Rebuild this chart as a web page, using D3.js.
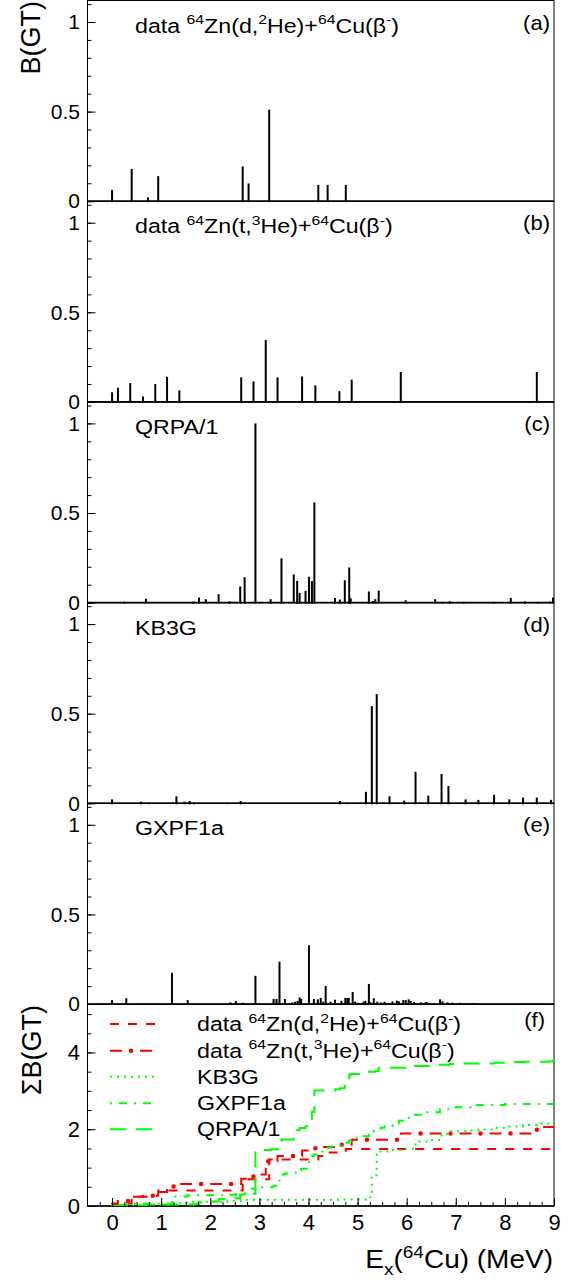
<!DOCTYPE html>
<html>
<head>
<meta charset="utf-8">
<script src="https://cdn.jsdelivr.net/npm/d3@7"></script>
<style>
  body { margin: 0; background: #fff; }
  text { font-family: "Liberation Sans", Arial, Helvetica, sans-serif; fill: #000; }
</style>
</head>
<body>
<script>
// B(GT) strengths per level (a)-(e)
var dhE = [0.00, 0.40, 0.73, 0.94, 2.66, 2.78, 3.20, 4.20, 4.39, 4.76];
var dhB = [0.063, 0.180, 0.022, 0.140, 0.194, 0.099, 0.511, 0.091, 0.091, 0.091];

var thE = [0.00, 0.12, 0.37, 0.63, 0.88, 1.12, 1.37, 2.63, 2.88, 3.13, 3.37, 3.87, 4.14, 4.63, 4.88, 5.88, 8.65];
var thB = [0.054, 0.079, 0.105, 0.030, 0.100, 0.140, 0.064, 0.137, 0.114, 0.345, 0.137, 0.142, 0.092, 0.060, 0.124, 0.167, 0.167];

var qrpaE = [0.25, 0.69, 1.66, 1.77, 1.91, 2.17, 2.39, 2.61, 2.70, 2.92, 3.23, 3.45, 3.70, 3.77, 3.82, 3.94, 4.01, 4.07, 4.12,
             4.54, 4.64, 4.74, 4.83, 4.86, 5.23, 5.31, 5.36, 5.43, 5.98, 6.58, 6.73, 6.88, 7.16, 7.78, 8.12, 8.41, 8.67, 8.91, 8.98];
var qrpaB = [0.005, 0.022, 0.006, 0.028, 0.019, 0.047, 0.007, 0.090, 0.142, 1.000, 0.019, 0.247, 0.157, 0.121, 0.054, 0.065, 0.144, 0.120, 0.559,
             0.026, 0.017, 0.125, 0.196, 0.024, 0.062, 0.009, 0.019, 0.067, 0.013, 0.019, 0.004, 0.007, 0.004, 0.004, 0.026, 0.007, 0.004, 0.006, 0.028];

var kbE = [0.00, 0.59, 0.74, 1.31, 1.47, 1.58, 1.67, 2.35, 2.62, 4.64, 4.79, 5.17, 5.29, 5.39, 5.65, 5.95, 6.18, 6.44, 6.71, 6.85,
           7.20, 7.46, 7.78, 8.09, 8.37, 8.65, 8.94];
var kbB = [0.022, 0.009, 0.004, 0.039, 0.009, 0.013, 0.005, 0.003, 0.013, 0.013, 0.004, 0.064, 0.542, 0.609, 0.039, 0.015, 0.176, 0.043, 0.164, 0.097,
           0.022, 0.019, 0.047, 0.022, 0.032, 0.032, 0.019];

var gxE = [0.00, 0.29, 1.22, 1.54, 2.41, 2.52, 2.66, 2.92, 3.29, 3.35, 3.41, 3.52, 3.67, 3.73, 3.78, 3.82, 3.85, 4.01, 4.11, 4.19,
           4.25, 4.30, 4.35, 4.45, 4.54, 4.67, 4.75, 4.79, 4.82, 4.90, 4.95, 5.00, 5.12, 5.16, 5.23, 5.26, 5.33, 5.40, 5.47, 5.55,
           5.71, 5.80, 5.84, 5.93, 5.98, 6.04, 6.08, 6.15, 6.29, 6.39, 6.42, 6.68, 6.73, 6.83, 6.93, 7.08, 7.34];
var gxB = [0.022, 0.032, 0.174, 0.022, 0.009, 0.017, 0.007, 0.157, 0.028, 0.028, 0.236, 0.028, 0.009, 0.013, 0.017, 0.037, 0.028, 0.328, 0.028, 0.026,
           0.034, 0.013, 0.101, 0.013, 0.024, 0.017, 0.034, 0.034, 0.034, 0.067, 0.013, 0.007, 0.013, 0.017, 0.112, 0.011, 0.032, 0.013, 0.009, 0.013,
           0.015, 0.019, 0.015, 0.022, 0.022, 0.026, 0.017, 0.011, 0.009, 0.011, 0.009, 0.026, 0.015, 0.009, 0.007, 0.007, 0.006];

// running sums of the calculations as drawn in panel (f) (they hold more strength than the resolved lines)
var kbSumE = [0.00, 0.58, 1.31, 1.47, 1.58, 2.35, 2.62, 4.64, 5.17, 5.29, 5.39, 5.65, 5.95, 6.18, 6.44, 6.71, 6.85, 7.20, 7.46, 7.78, 8.09, 8.37, 8.65, 8.94];
var kbSumV = [0.02, 0.03, 0.07, 0.09, 0.11, 0.14, 0.16, 0.17, 0.23, 0.80, 1.42, 1.46, 1.49, 1.68, 1.72, 1.88, 1.95, 1.97, 1.99, 2.04, 2.07, 2.11, 2.15, 2.18];

var gxSumE = [0.00, 0.29, 1.22, 1.54, 2.41, 2.52, 2.66, 2.92, 3.29, 3.35, 3.41, 3.52, 3.67, 3.78, 3.82, 3.85, 4.01, 4.11, 4.19, 4.25, 4.35, 4.45,
              4.54, 4.67, 4.75, 4.82, 4.90, 5.12, 5.23, 5.33, 5.47, 5.55, 5.71, 5.84, 5.98, 6.08, 6.29, 6.68, 6.93, 7.34, 8.00];
var gxSumV = [0.03, 0.06, 0.25, 0.28, 0.29, 0.31, 0.32, 0.49, 0.53, 0.56, 0.82, 0.85, 0.87, 0.90, 0.94, 0.97, 1.30, 1.34, 1.38, 1.42, 1.52, 1.55,
              1.58, 1.61, 1.65, 1.70, 1.78, 1.82, 1.95, 2.00, 2.04, 2.08, 2.15, 2.22, 2.30, 2.38, 2.44, 2.52, 2.57, 2.63, 2.66];

var qrpaSumE = [0.25, 0.69, 1.66, 1.77, 1.91, 2.17, 2.39, 2.61, 2.70, 2.92, 3.23, 3.45, 3.70, 3.77, 3.82, 3.94, 4.01, 4.07, 4.12, 4.54, 4.64,
                4.74, 4.83, 4.86, 5.23, 5.36, 5.43, 5.98, 6.58, 6.88, 7.16, 7.78, 8.12, 8.41, 8.91, 8.98];
var qrpaSumV = [0.01, 0.04, 0.06, 0.09, 0.12, 0.18, 0.20, 0.30, 0.45, 1.46, 1.48, 1.73, 1.88, 1.98, 2.03, 2.08, 2.22, 2.45, 3.01, 3.04, 3.07,
                3.20, 3.42, 3.44, 3.50, 3.52, 3.60, 3.65, 3.68, 3.70, 3.71, 3.73, 3.75, 3.76, 3.77, 3.79];

var xTicks = [0, 1, 2, 3, 4, 5, 6, 7, 8, 9];
var bTicks = [0, 0.5, 1];
var sumTicks = [0, 2, 4];

var width = 574, height = 1284;
var svg = d3.select("body").append("svg").attr("width", width).attr("height", height);

var x = d3.scaleLinear().domain([-0.5, 9.0]).range([87.5, 554]);
var panelH = 200.7;

// text with ^{..} and _{..} pieces, slightly widened like the original
function rich(parent, px, py, str, size, sx, anchor) {
  var t = parent.append("text").attr("transform", "translate(" + px + "," + py + ") scale(" + sx + ",1)")
    .attr("text-anchor", anchor || "start");
  var re = /([\^_])\{([^}]*)\}|([^\^_]+)/g, m, shift = 0;
  while ((m = re.exec(str))) {
    if (m[3]) {
      t.append("tspan").attr("font-size", size).attr("dy", -shift).text(m[3]);
      shift = 0;
    } else {
      var s = m[1] === "^" ? -0.42 * size : 0.28 * size;
      t.append("tspan").attr("font-size", size * 0.68).attr("dy", s - shift).text(m[2]);
      shift = s;
    }
  }
  return t;
}

var panels = [
  {E: dhE, B: dhB, title: "data ^{64}Zn(d,^{2}He)+^{64}Cu(β^{-})", tag: "(a)"},
  {E: thE, B: thB, title: "data ^{64}Zn(t,^{3}He)+^{64}Cu(β^{-})", tag: "(b)"},
  {E: qrpaE, B: qrpaB, title: "QRPA/1", tag: "(c)"},
  {E: kbE, B: kbB, title: "KB3G", tag: "(d)"},
  {E: gxE, B: gxB, title: "GXPF1a", tag: "(e)"}
];

panels.forEach(function(p, i) {
  var top = 0.5 + i * panelH, bot = top + panelH;
  var y = d3.scaleLinear().domain([0, 1.12]).range([bot, top]);
  var g = svg.append("g");

  g.append("rect").attr("x", x(-0.5)).attr("y", top).attr("width", x(9) - x(-0.5)).attr("height", panelH)
    .attr("fill", "none").attr("stroke", "#000").attr("stroke-width", 1);

  g.selectAll(".bar").data(p.E).enter().append("line")
    .attr("x1", function(d) { return x(d); }).attr("x2", function(d) { return x(d); })
    .attr("y1", y(0) + 1).attr("y2", function(d, j) { return y(p.B[j]); })
    .attr("stroke", "#000").attr("stroke-width", 2);

  g.append("line").attr("x1", x(-0.5)).attr("x2", x(9)).attr("y1", bot).attr("y2", bot)
    .attr("stroke", "#000").attr("stroke-width", 1.6);

  var minor = d3.axisLeft(y).tickValues(d3.range(0, 1.11, 0.1)).tickSizeInner(-4).tickSizeOuter(0).tickFormat("");
  var major = d3.axisLeft(y).tickValues(bTicks).tickSizeInner(-8).tickSizeOuter(0).tickPadding(7.5).tickFormat(function(d) { return String(d); });
  var ga = g.append("g").attr("transform", "translate(" + x(-0.5) + ",0)");
  ga.append("g").call(minor);
  ga.append("g").call(major);
  ga.selectAll(".domain").remove();
  ga.selectAll("text").attr("font-size", 21).attr("font-family", null);

  rich(g, 135, top + 32, p.title, 20, 1.16);
  rich(g, 550, top + 29, p.tag, 20, 1.1, "end");
});

svg.append("text").attr("transform", "translate(40,1) rotate(-90)").attr("text-anchor", "end")
  .attr("font-size", 27).text("B(GT)");

// panel (f): running sums
var fTop = 1004.5, fBot = 1206;
var yF = d3.scaleLinear().domain([0, 5.25]).range([fBot, fTop]);
var gf = svg.append("g");
gf.append("rect").attr("x", x(-0.5)).attr("y", fTop).attr("width", x(9) - x(-0.5)).attr("height", fBot - fTop)
  .attr("fill", "none").attr("stroke", "#000").attr("stroke-width", 1);
gf.append("line").attr("x1", x(-0.5)).attr("x2", x(9)).attr("y1", fBot).attr("y2", fBot)
  .attr("stroke", "#000").attr("stroke-width", 1.6);

svg.append("defs").append("clipPath").attr("id", "clipf").append("rect")
  .attr("x", x(-0.5)).attr("y", fTop).attr("width", x(9) - x(-0.5)).attr("height", fBot - fTop);

function steps(E, V) {
  var pts = [[0, 0]];
  E.forEach(function(e, j) { pts.push([e, V[j]]); });
  pts.push([9.0, V[V.length - 1]]);
  return pts;
}
var line = d3.line().x(function(d) { return x(d[0]); }).y(function(d) { return yF(d[1]); }).curve(d3.curveStepAfter);

var red = "#ff0000", green = "#00ff00";
var curves = [
  {pts: steps(dhE, Array.from(d3.cumsum(dhB))), color: red, dash: "9,9", label: "data ^{64}Zn(d,^{2}He)+^{64}Cu(β^{-})"},
  {pts: steps(thE, Array.from(d3.cumsum(thB))), color: red, dash: "12,18", dots: true, label: "data ^{64}Zn(t,^{3}He)+^{64}Cu(β^{-})"},
  {pts: steps(kbSumE, kbSumV), color: green, dash: "2,5", label: "KB3G"},
  {pts: steps(gxSumE, gxSumV), color: green, dash: "2,7,8,7", label: "GXPF1a"},
  {pts: steps(qrpaSumE, qrpaSumV), color: green, dash: "16,10", label: "QRPA/1"}
];

var gc = gf.append("g").attr("clip-path", "url(#clipf)");
curves.forEach(function(c) {
  gc.append("path").attr("d", line(c.pts)).attr("fill", "none").attr("stroke", c.color)
    .attr("stroke-width", 2).attr("stroke-dasharray", c.dash);
  if (c.dots) {
    gc.append("path").attr("d", line(c.pts)).attr("fill", "none").attr("stroke", c.color)
      .attr("stroke-width", 4.5).attr("stroke-linecap", "round").attr("stroke-dasharray", "0,30").attr("stroke-dashoffset", -21);
  }
});

// legend
var legY = [1024, 1050.7, 1076.7, 1103.3, 1129.3];
curves.forEach(function(c, j) {
  var ly = legY[j];
  gf.append("line").attr("x1", 110).attr("x2", 157).attr("y1", ly).attr("y2", ly)
    .attr("stroke", c.color).attr("stroke-width", 2).attr("stroke-dasharray", c.dash);
  if (c.dots) {
    gf.append("line").attr("x1", 110).attr("x2", 157).attr("y1", ly).attr("y2", ly)
      .attr("stroke", c.color).attr("stroke-width", 4.5).attr("stroke-linecap", "round")
      .attr("stroke-dasharray", "0,30").attr("stroke-dashoffset", -21);
  }
  rich(gf, 197, ly + 7, c.label, 20, 1.16);
});
rich(gf, 545, 1027, "(f)", 20, 1.1, "end");

// axes of panel (f)
var gfy = gf.append("g").attr("transform", "translate(" + x(-0.5) + ",0)");
gfy.append("g").call(d3.axisLeft(yF).tickValues(d3.range(0, 5.01, 0.5)).tickSizeInner(-4).tickSizeOuter(0).tickFormat(""));
gfy.append("g").call(d3.axisLeft(yF).tickValues(sumTicks).tickSizeInner(-8).tickSizeOuter(0).tickPadding(7.5).tickFormat(d3.format("d")));
gfy.selectAll(".domain").remove();
gfy.selectAll("text").attr("font-size", 22).attr("font-family", null);

var gfx = gf.append("g").attr("transform", "translate(0," + fBot + ")");
gfx.append("g").call(d3.axisBottom(x).tickValues(d3.range(-0.25, 9.01, 0.25)).tickSizeInner(-4).tickSizeOuter(0).tickFormat(""));
gfx.append("g").call(d3.axisBottom(x).tickValues(xTicks).tickSizeInner(-8).tickSizeOuter(0).tickPadding(8.5).tickFormat(d3.format("d")));
gfx.selectAll(".domain").remove();
gfx.selectAll("text").attr("font-size", 22).attr("font-family", null);

svg.append("text").attr("transform", "translate(41,1005) rotate(-90)").attr("text-anchor", "end")
  .attr("font-size", 27).text("ΣB(GT)");
rich(svg, 553, 1268, "E_{x}(^{64}Cu) (MeV)", 25, 1.12, "end");
</script>
</body>
</html>
